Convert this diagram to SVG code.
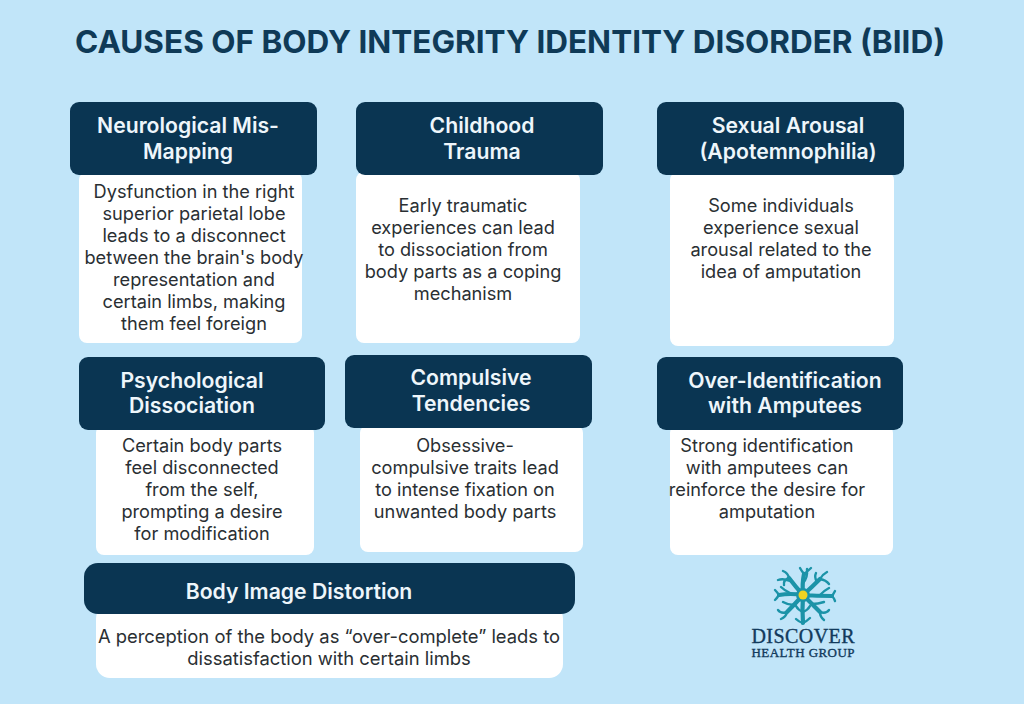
<svg xmlns="http://www.w3.org/2000/svg" width="1024" height="704" viewBox="0 0 1024 704">
<style>
.h{fill:#0a3552}
.b{fill:#fff}
.ht{font:600 21.2px "Inter","Liberation Sans",sans-serif;fill:#eef6fb;text-anchor:middle}
.bt{font:400 18.2px "Inter","Liberation Sans",sans-serif;fill:#2a2f33;text-anchor:middle}
.logo{fill:none;stroke:#1b93a8;stroke-width:2.4;stroke-linecap:round;stroke-linejoin:round}
.trunk{stroke-width:4.2}
.lt{font-family:"Liberation Serif",serif;fill:#123a5c;stroke:#123a5c;stroke-width:.35;text-anchor:middle}
</style>
<rect width="1024" height="704" fill="#c1e5f9"/>
<text x="510" y="53" text-anchor="middle" style="font:700 31.5px 'Inter','Liberation Sans',sans-serif;fill:#0f3a57">CAUSES OF BODY INTEGRITY IDENTITY DISORDER (BIID)</text>
<g id="n1"><rect class="b" x="79" y="172" width="223" height="171" rx="8"/><rect class="h" x="70" y="102" width="247" height="73" rx="9"/>
<text class="ht"><tspan x="188" y="133">Neurological Mis-</tspan><tspan x="188" y="159">Mapping</tspan></text>
<text class="bt"><tspan x="194" y="198">Dysfunction in the right</tspan><tspan x="194" y="220">superior parietal lobe</tspan><tspan x="194" y="242">leads to a disconnect</tspan><tspan x="194" y="264">between the brain's body</tspan><tspan x="194" y="286">representation and</tspan><tspan x="194" y="308">certain limbs, making</tspan><tspan x="194" y="330">them feel foreign</tspan></text></g>
<g id="n2"><rect class="b" x="356" y="172" width="224" height="171" rx="8"/><rect class="h" x="356" y="102" width="247" height="73" rx="9"/>
<text class="ht"><tspan x="482" y="133">Childhood</tspan><tspan x="482" y="159">Trauma</tspan></text>
<text class="bt"><tspan x="463" y="212">Early traumatic</tspan><tspan x="463" y="234">experiences can lead</tspan><tspan x="463" y="256">to dissociation from</tspan><tspan x="463" y="278">body parts as a coping</tspan><tspan x="463" y="300">mechanism</tspan></text></g>
<g id="n3"><rect class="b" x="670" y="172" width="224" height="174" rx="8"/><rect class="h" x="657" y="102" width="247" height="73" rx="9"/>
<text class="ht"><tspan x="788" y="133">Sexual Arousal</tspan><tspan x="788" y="159">(Apotemnophilia)</tspan></text>
<text class="bt"><tspan x="781" y="212">Some individuals</tspan><tspan x="781" y="234">experience sexual</tspan><tspan x="781" y="256">arousal related to the</tspan><tspan x="781" y="278">idea of amputation</tspan></text></g>
<g id="n4"><rect class="b" x="96" y="425" width="218" height="130" rx="8"/><rect class="h" x="79" y="357" width="246" height="73" rx="9"/>
<text class="ht"><tspan x="192" y="388">Psychological</tspan><tspan x="192" y="413">Dissociation</tspan></text>
<text class="bt"><tspan x="202" y="452">Certain body parts</tspan><tspan x="202" y="474">feel disconnected</tspan><tspan x="202" y="496">from the self,</tspan><tspan x="202" y="518">prompting a desire</tspan><tspan x="202" y="540">for modification</tspan></text></g>
<g id="n5"><rect class="b" x="360" y="425" width="223" height="127" rx="8"/><rect class="h" x="345" y="355" width="247" height="73" rx="9"/>
<text class="ht"><tspan x="471" y="385">Compulsive</tspan><tspan x="471" y="411">Tendencies</tspan></text>
<text class="bt"><tspan x="465" y="452">Obsessive-</tspan><tspan x="465" y="474">compulsive traits lead</tspan><tspan x="465" y="496">to intense fixation on</tspan><tspan x="465" y="518">unwanted body parts</tspan></text></g>
<g id="n6"><rect class="b" x="670" y="425" width="223" height="130" rx="8"/><rect class="h" x="657" y="357" width="246" height="73" rx="9"/>
<text class="ht"><tspan x="785" y="388">Over-Identification</tspan><tspan x="785" y="413">with Amputees</tspan></text>
<text class="bt"><tspan x="767" y="452">Strong identification</tspan><tspan x="767" y="474">with amputees can</tspan><tspan x="767" y="496">reinforce the desire for</tspan><tspan x="767" y="518">amputation</tspan></text></g>
<g id="n7"><rect class="b" x="96" y="605" width="467" height="73" rx="14"/><rect class="h" x="84" y="563" width="491" height="51" rx="14"/>
<text class="ht" x="299" y="599">Body Image Distortion</text>
<text class="bt" style="font-size:18.4px"><tspan x="329" y="643">A perception of the body as “over-complete” leads to</tspan><tspan x="329" y="665">dissatisfaction with certain limbs</tspan></text></g>
<g id="logo">
<path class="logo trunk" d="M803 595Q802 583 804 574M803 595Q802 610 803 623M803 595Q790 593 779 595M803 595Q816 596 832 596M803 595Q795 586 789 578M803 595Q812 587 820 579M803 595Q795 604 787 612M803 595Q812 604 820 612"/>
<path class="logo" d="M804 574Q801 570 800 568M804 574Q808 571 811 568M803 583Q808 578 807 569M789 578Q788 573 783 571M789 578Q783 580 784 585M790 581Q783 578 778 580M820 579Q823 574 827 572M820 579Q826 580 829 584M817 582Q814 577 816 573M779 595Q777 592 775 590M779 595Q777 598 775 600M790 593Q784 590 781 587M832 596Q834 593 835 591M832 596Q834 598 835 601M820 595Q825 590 829 588M787 612Q781 614 778 610M787 612Q786 617 781 619M794 605Q788 605 783 602M820 612Q826 614 829 610M820 612Q820 617 824 620M812 604Q818 604 824 602M803 623Q799 622 796 619M803 623Q807 621 810 618M803 612Q798 610 796 606M803 612Q808 610 810 606"/>
<circle cx="803" cy="595" r="7" fill="#1b93a8"/><circle cx="803" cy="595" r="4.5" fill="#f0d321"/>
<text class="lt" x="803" y="643" style="font-size:20px" textLength="103">DISCOVER</text>
<text class="lt" x="803" y="657" style="font-size:13px" textLength="103">HEALTH GROUP</text>
</g>
</svg>
